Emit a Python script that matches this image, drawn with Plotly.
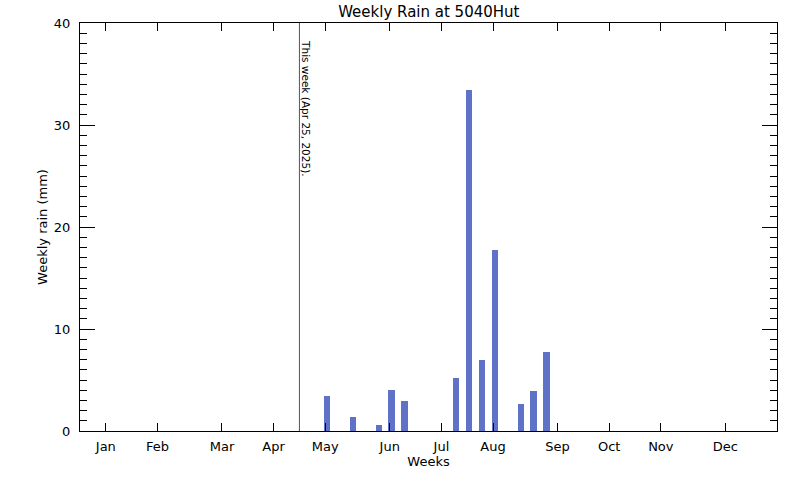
import plotly.graph_objects as go

weeks = [19, 21, 23, 24, 25, 29, 30, 31, 32, 34, 35, 36]
rain_mm = [3.4, 1.4, 0.6, 4.0, 2.9, 5.2, 33.4, 7.0, 17.7, 2.6, 3.9, 7.7]
month_weeks = [2, 6, 11, 15, 19, 24, 28, 32, 37, 41, 45, 50]
month_labels = ["Jan", "Feb", "Mar", "Apr", "May", "Jun", "Jul", "Aug", "Sep", "Oct", "Nov", "Dec"]
this_week = 17
this_week_label = "This week (Apr 25, 2025)."

font = "DejaVu Sans"

fig = go.Figure()
fig.add_trace(go.Bar(
    x=weeks, y=rain_mm, width=0.5, offset=-0.1,
    marker=dict(color="rgb(94,115,200)", line=dict(width=0)),
    hoverinfo="x+y",
))

fig.add_shape(type="line", x0=this_week, x1=this_week, y0=0, y1=40,
              xref="x", yref="y", line=dict(color="#555555", width=1))
fig.add_annotation(x=this_week, y=40, xref="x", yref="y", text=this_week_label,
                   textangle=90, showarrow=False, xanchor="left", yanchor="top",
                   xshift=-1, yshift=-15, font=dict(family=font, size=10.5, color="#000"))

fig.update_layout(
    width=800, height=480,
    margin=dict(l=80, r=23, t=23, b=49, autoexpand=False),
    paper_bgcolor="white", plot_bgcolor="white",
    showlegend=False, bargap=0,
    title=dict(text="Weekly Rain at 5040Hut", x=0.536, xanchor="center",
               y=0.975, yanchor="middle", font=dict(family=font, size=15, color="#000")),
    font=dict(family=font, size=13, color="#000"),
)
fig.update_xaxes(
    range=[0, 54], tickmode="array", tickvals=month_weeks, ticktext=month_labels,
    ticks="inside", ticklen=8, tickcolor="#000", tickwidth=1,
    showline=True, linecolor="#000", linewidth=1, mirror="ticks",
    showgrid=False, zeroline=False, automargin=False, ticklabelstandoff=3,
    title=dict(text="Weeks", standoff=1, font=dict(family=font, size=13)),
    tickfont=dict(family=font, size=13),
)
fig.update_yaxes(
    range=[0, 40], tickvals=[0, 10, 20, 30, 40],
    ticks="inside", ticklen=15, tickcolor="#000", tickwidth=1,
    minor=dict(ticks="inside", ticklen=7, dtick=1, tickcolor="#000", showgrid=False),
    showline=True, linecolor="#000", linewidth=1, mirror="ticks",
    showgrid=False, zeroline=False, automargin=False, ticklabelstandoff=6,
    title=dict(text="Weekly rain (mm)", standoff=3, font=dict(family=font, size=13)),
    tickfont=dict(family=font, size=13),
)

fig.write_html("out.html", config={"displayModeBar": False},
               post_script="document.body.style.margin='0';")
